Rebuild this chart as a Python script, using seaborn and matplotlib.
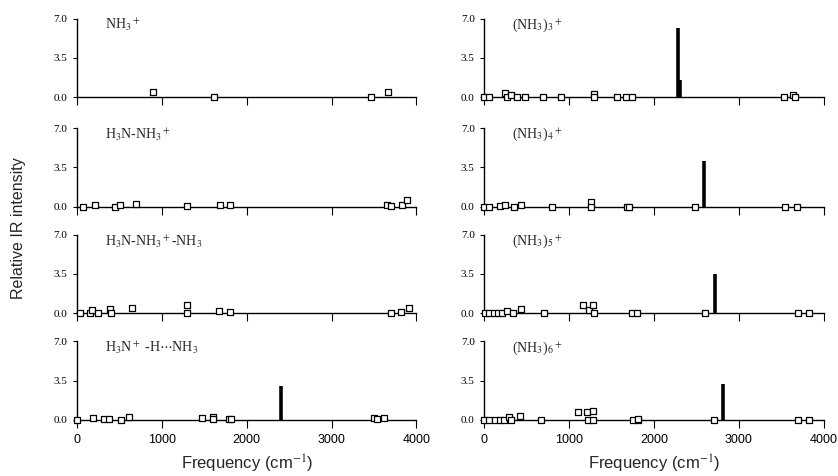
import matplotlib
matplotlib.use("Agg")
import pandas as pd
import matplotlib.pyplot as plt
import seaborn as sns

# --- Data: frequency (cm-1) and relative IR intensity ---

# NH3+
p1_freq = [890, 1610, 3460, 3660]
p1_int = [0.45, 0.05, 0.0, 0.45]
p1_bar_freq = []
p1_bar_int = []

# (NH3)3+
p2_freq = [0, 55, 246, 262, 316, 383, 484, 691, 898, 1297, 1297, 1563, 1672, 1738, 3527, 3637, 3664]
p2_int = [0.0, 0.0, 0.35, 0.0, 0.15, 0.05, 0.05, 0.0, 0.0, 0.3, 0.0, 0.0, 0.0, 0.0, 0.0, 0.2, 0.0]
p2_bar_freq = [2285, 2310]
p2_bar_int = [6.2, 1.5]

# H3N-NH3+
p3_freq = [74, 211, 442, 504, 692, 1300, 1685, 1807, 3658, 3701, 3826, 3892]
p3_int = [0.0, 0.15, 0.0, 0.15, 0.25, 0.05, 0.15, 0.1, 0.1, 0.05, 0.1, 0.55]
p3_bar_freq = []
p3_bar_int = []

# (NH3)4+
p4_freq = [0, 58, 187, 249, 347, 432, 795, 1254, 1254, 1683, 1702, 2477, 3541, 3681]
p4_int = [0.0, 0.0, 0.05, 0.1, 0.0, 0.15, 0.0, 0.4, 0.0, 0.0, 0.0, 0.0, 0.0, 0.0]
p4_bar_freq = [2591]
p4_bar_int = [4.1]

# H3N-NH3+-NH3
p5_freq = [39, 149, 176, 247, 392, 404, 647, 1294, 1294, 1675, 1804, 3694, 3816, 3914]
p5_int = [0.0, 0.0, 0.25, 0.0, 0.35, 0.0, 0.45, 0.7, 0.0, 0.2, 0.15, 0.0, 0.15, 0.45]
p5_bar_freq = []
p5_bar_int = []

# (NH3)5+
p6_freq = [12, 59, 109, 156, 206, 269, 339, 432, 701, 1157, 1231, 1286, 1293, 1745, 1804, 2602, 3693, 3829]
p6_int = [0.0, 0.0, 0.0, 0.0, 0.0, 0.2, 0.0, 0.4, 0.0, 0.7, 0.25, 0.75, 0.0, 0.0, 0.0, 0.0, 0.0, 0.0]
p6_bar_freq = [2723]
p6_bar_int = [3.5]

# H3N+-H...NH3
p7_freq = [0, 186, 319, 381, 521, 610, 1477, 1597, 1605, 1796, 1808, 3498, 3529, 3622]
p7_int = [0.0, 0.15, 0.1, 0.1, 0.02, 0.25, 0.18, 0.25, 0.05, 0.05, 0.05, 0.17, 0.06, 0.2]
p7_bar_freq = [2398]
p7_bar_int = [3.0]

# (NH3)6+
p8_freq = [0, 54, 120, 179, 237, 287, 315, 419, 664, 1103, 1212, 1223, 1285, 1285, 1751, 1806, 1814, 2703, 3701, 3829]
p8_int = [0.0, 0.0, 0.0, 0.0, 0.0, 0.25, 0.0, 0.35, 0.0, 0.7, 0.7, 0.0, 0.75, 0.0, 0.0, 0.0, 0.1, 0.0, 0.0, 0.0]
p8_bar_freq = [2808]
p8_bar_int = [3.2]

labels = [
    r"NH$_3$$^+$",
    r"(NH$_3$)$_3$$^+$",
    r"H$_3$N-NH$_3$$^+$",
    r"(NH$_3$)$_4$$^+$",
    r"H$_3$N-NH$_3$$^+$-NH$_3$",
    r"(NH$_3$)$_5$$^+$",
    r"H$_3$N$^+$ -H$\cdots$NH$_3$",
    r"(NH$_3$)$_6$$^+$",
]

panels = [
    (p1_freq, p1_int, p1_bar_freq, p1_bar_int),
    (p2_freq, p2_int, p2_bar_freq, p2_bar_int),
    (p3_freq, p3_int, p3_bar_freq, p3_bar_int),
    (p4_freq, p4_int, p4_bar_freq, p4_bar_int),
    (p5_freq, p5_int, p5_bar_freq, p5_bar_int),
    (p6_freq, p6_int, p6_bar_freq, p6_bar_int),
    (p7_freq, p7_int, p7_bar_freq, p7_bar_int),
    (p8_freq, p8_int, p8_bar_freq, p8_bar_int),
]

# --- Style ---
sns.set_style("ticks")
plt.rcParams["font.family"] = ["Liberation Serif", "DejaVu Serif"]
plt.rcParams["mathtext.fontset"] = "stix"

fig = plt.figure(figsize=(8.38, 4.76), dpi=100)

col_left = [0.092, 0.578]
row_bottom = [0.796, 0.566, 0.342, 0.118]
ax_w, ax_h = 0.405, 0.165

for i, (freq, inten, bfreq, bint) in enumerate(panels):
    row, col = i // 2, i % 2
    ax = fig.add_axes([col_left[col], row_bottom[row], ax_w, ax_h])

    # sticks for the strong modes
    if bfreq:
        ax.vlines(bfreq, 0, bint, color="black", linewidth=2.6, zorder=2)

    df = pd.DataFrame({"freq": freq, "inten": inten})
    sns.scatterplot(data=df, x="freq", y="inten", ax=ax, marker="s", s=22,
                    facecolor="white", edgecolor="black", linewidth=0.9,
                    clip_on=False, zorder=3)

    ax.set_xlim(0, 4000)
    ax.set_ylim(0, 7)
    ax.set_yticks([0.0, 3.5, 7.0])
    ax.set_yticklabels(["0.0", "3.5", "7.0"])
    ax.set_xticks([0, 1000, 2000, 3000, 4000])
    ax.set_xlabel("")
    ax.set_ylabel("")
    sns.despine(ax=ax)
    for s in ["left", "bottom"]:
        ax.spines[s].set_linewidth(1.0)
        ax.spines[s].set_color("black")
    ax.tick_params(axis="y", direction="out", length=3, width=0.8,
                   labelsize=8, pad=4, colors="black")
    ax.tick_params(axis="x", direction="out", length=6, width=0.8, pad=4,
                   colors="black")
    ax.patch.set_alpha(0)

    if row == 3:
        ax.set_xticklabels(["0", "1000", "2000", "3000", "4000"],
                           family="Liberation Sans", fontsize=9)
        ax.set_xlabel(r"Frequency (cm$^{-1}$)", family="Liberation Sans",
                      fontsize=12, labelpad=5)
    else:
        ax.set_xticklabels([])

    ax.text(330, 6.4, labels[i], fontsize=10, va="center", ha="left")

fig.text(0.022, 0.52, "Relative IR intensity", rotation=90, ha="center",
         va="center", family="Liberation Sans", fontsize=11.5)

plt.savefig("out.png", dpi=100)
